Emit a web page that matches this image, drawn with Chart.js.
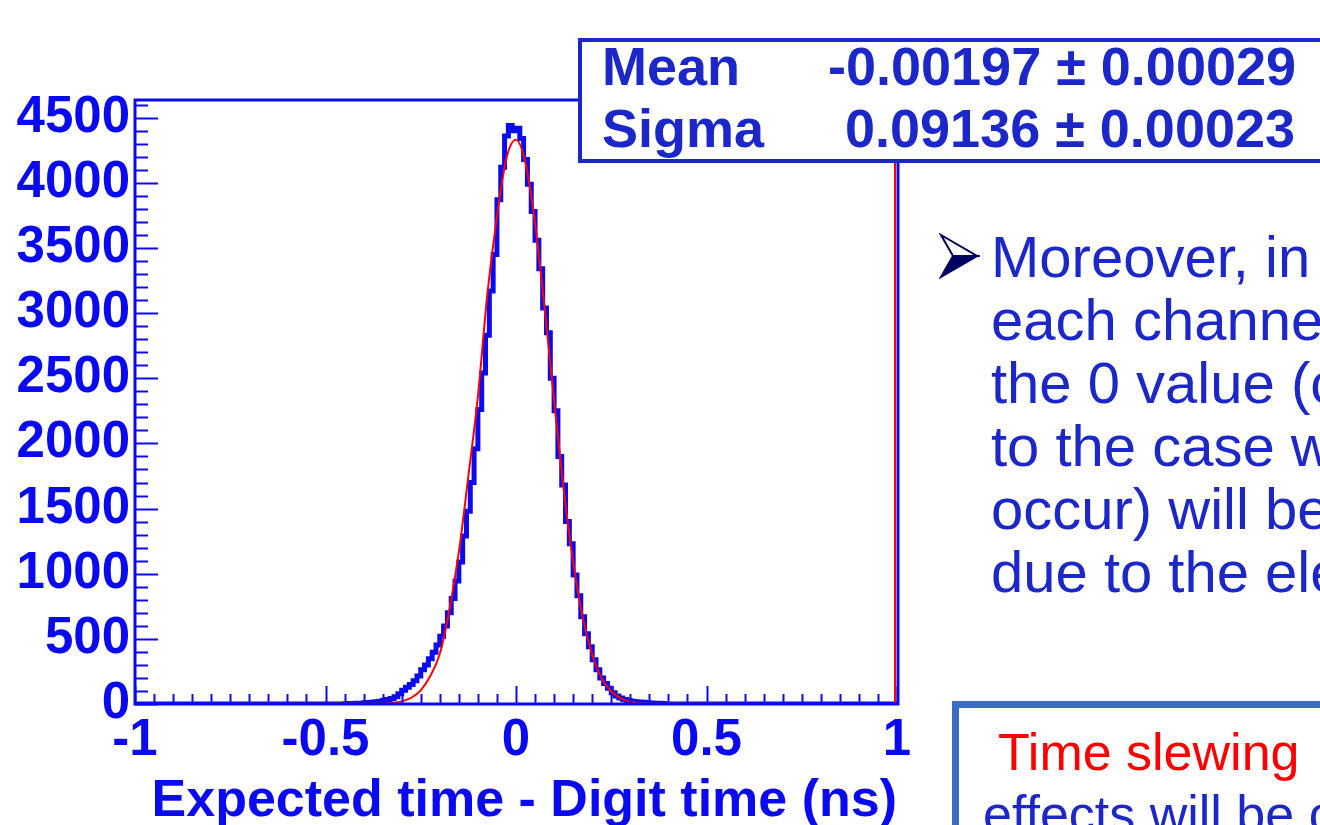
<!DOCTYPE html>
<html>
<head>
<meta charset="utf-8">
<title>Expected time - Digit time</title>
<script src="https://cdn.jsdelivr.net/npm/chart.js@4.4.1/dist/chart.umd.min.js"></script>
<style>
  html, body { margin: 0; padding: 0; background: #fff; overflow: hidden; }
  body { width: 1320px; height: 825px; position: relative; font-family: "Liberation Sans", Arial, sans-serif; }
  #wrap { position: absolute; left: 0; top: 0; width: 1320px; height: 825px; }
  .stats { position: absolute; left: 578px; top: 38px; width: 800px; height: 117px;
           border: 4px solid #1b27c9; background: #fff; color: #1b27c9; font-weight: bold; font-size: 54px; }
  .stats span { position: absolute; white-space: nowrap; line-height: 1; }
  .slide { position: absolute; color: #1b27c9; white-space: nowrap; }
  .note { position: absolute; left: 952px; top: 701px; width: 420px; height: 200px;
          border: 7px solid #3a6cc8; background: #fff; }
</style>
</head>
<body>
<div id="wrap"><canvas id="histo" width="1320" height="825"></canvas></div>

<div class="stats">
  <span style="left:20px; top:-3px">Mean</span>
  <span style="left:246px; top:-3px">-0.00197 ± 0.00029</span>
  <span style="left:20px; top:59px">Sigma</span>
  <span style="left:263px; top:59px">0.09136 ± 0.00023</span>
</div>

<svg style="position:absolute; left:938px; top:233px" width="42" height="46" viewBox="0 0 42 46">
  <polygon points="3,2 39,23 15,23" fill="#fff" stroke="#000060" stroke-width="2"/>
  <polygon points="3,44 39,23 15,23" fill="#000060" stroke="#000060" stroke-width="2"/>
</svg>
<div class="slide" style="left:991px; top:225px; font-size:58px; line-height:63px">
  Moreover, in<br>each channel<br>the 0 value (c<br>to the case w<br>occur) will be<br>due to the ele
</div>

<div class="note">
  <div class="slide" style="left:39px; top:13px; font-size:52px; line-height:62px; color:#ff0000">Time slewing</div>
  <div class="slide" style="left:24px; top:75px; font-size:52px; line-height:62px">effects will be c</div>
</div>

<script>
// -------------------------------
// DATA
// -------------------------------
const binStart = -0.45;
const binWidth = 0.01;
const counts = [
  2, 4, 3, 5, 6, 9, 11, 14, 18, 22,
  28, 35, 42, 55, 78, 105, 128, 150, 178, 215,
  262, 300, 348, 398, 452, 520, 598, 700, 810, 945,
  1090, 1290, 1480, 1700, 1960, 2260, 2540, 2830, 3170, 3450,
  3870, 4120, 4360, 4440, 4400,
  4420, 4340, 4180, 3990, 3780, 3560, 3340, 3040, 2850, 2500,
  2250, 1900, 1680, 1400, 1230, 990, 830, 670, 540, 440,
  340, 262, 200, 158, 120, 86, 62, 46, 35, 27,
  22, 18, 15, 13, 10, 8, 6, 5, 3, 0
];

// gaussian fit curve, read at a few points
const fitX = [-1, -0.35, -0.325, -0.3, -0.275, -0.25, -0.225, -0.2, -0.175, -0.15, -0.125, -0.1, -0.075, -0.05, -0.025,
  0, 0.025, 0.05, 0.075, 0.1, 0.125, 0.15, 0.175, 0.2, 0.225, 0.25, 0.275, 0.3, 0.325, 0.35, 1];
const fitY = [0, 4, 8, 20, 48, 105, 215, 385, 720, 1165, 1750, 2360, 3150, 3740, 4190,
  4330, 4150, 3690, 3040, 2330, 1650, 1090, 665, 380, 198, 98, 44, 18, 7, 3, 0];

const xRange = [-1, 1];
const yRange = [0, 4636];
const xTicks = [-1, -0.5, 0, 0.5, 1];
const xTickLabels = ["-1", "-0.5", "0", "0.5", "1"];
const yTicks = [0, 500, 1000, 1500, 2000, 2500, 3000, 3500, 4000, 4500];
const yTickLabels = ["0", "500", "1000", "1500", "2000", "2500", "3000", "3500", "4000", "4500"];

// -------------------------------
// BUILD POINTS
// -------------------------------
const histPoints = [{ x: xRange[0], y: 0 }];
counts.forEach((c, i) => {
  histPoints.push({ x: +(binStart + i * binWidth).toFixed(2), y: c });
});
histPoints.push({ x: +(binStart + counts.length * binWidth).toFixed(2), y: 0 });
histPoints.push({ x: xRange[1], y: 0 });

const fitPoints = fitX.map((x, i) => ({ x: x, y: fitY[i] }));

const BLUE = "#0a0af0";
const FONT = "'Liberation Sans', Arial, sans-serif";

// -------------------------------
// ROOT-LIKE FRAME + INNER TICKS
// -------------------------------
const rootFrame = {
  id: "rootFrame",
  afterDatasetsDraw(chart) {
    const { ctx, chartArea: a, scales } = chart;
    const xs = scales.x, ys = scales.y;
    ctx.save();

    // red fit drawn up the right edge
    ctx.strokeStyle = "#ff0000";
    ctx.lineWidth = 2;
    ctx.beginPath();
    ctx.moveTo(xs.getPixelForValue(1) - 2, a.bottom);
    ctx.lineTo(xs.getPixelForValue(1) - 2, a.top);
    ctx.stroke();

    ctx.strokeStyle = BLUE;
    ctx.lineWidth = 2;
    // y ticks every 100, long every 500
    for (let v = 0; v <= yRange[1]; v += 100) {
      const py = Math.round(ys.getPixelForValue(v)) + 0.5;
      const len = v % 500 === 0 ? 23 : 13;
      ctx.beginPath();
      ctx.moveTo(a.left, py);
      ctx.lineTo(a.left + len, py);
      ctx.stroke();
    }
    // x ticks every 0.05, long every 0.5
    for (let k = -20; k <= 20; k++) {
      const v = k * 0.05;
      const px = Math.round(xs.getPixelForValue(v)) + 0.5;
      const len = k % 10 === 0 ? 18 : 10;
      ctx.beginPath();
      ctx.moveTo(px, a.bottom);
      ctx.lineTo(px, a.bottom - len);
      ctx.stroke();
    }

    // frame
    ctx.lineWidth = 3;
    ctx.strokeRect(a.left, a.top, a.right - a.left + 1, a.bottom - a.top);
    ctx.restore();
  }
};

// -------------------------------
// CHART
// -------------------------------
const ctx = document.getElementById("histo").getContext("2d");

new Chart(ctx, {
  type: "line",
  data: {
    datasets: [
      {
        label: "fit",
        data: fitPoints,
        borderColor: "#ff0000",
        borderWidth: 2,
        pointRadius: 0,
        cubicInterpolationMode: "monotone",
        fill: false,
        order: 0
      },
      {
        label: "histogram",
        data: histPoints,
        borderColor: BLUE,
        borderWidth: 5,
        pointRadius: 0,
        stepped: true,
        fill: false,
        order: 1
      }
    ]
  },
  options: {
    responsive: false,
    animation: false,
    layout: { padding: { top: 100, left: 0, right: 423, bottom: 0 } },
    plugins: { legend: { display: false }, tooltip: { enabled: false } },
    scales: {
      x: {
        type: "linear",
        min: xRange[0],
        max: xRange[1],
        grid: { display: false, drawTicks: false },
        border: { display: false },
        afterBuildTicks: (s) => { s.ticks = xTicks.map(v => ({ value: v })); },
        afterFit: (s) => { s.height = 121; },
        ticks: {
          color: BLUE,
          padding: 6,
          maxRotation: 0,
          autoSkip: false,
          font: { family: FONT, size: 51, weight: "bold" },
          callback: (v, i) => xTickLabels[i]
        },
        title: {
          display: true,
          text: "Expected time - Digit time (ns)",
          align: "end",
          color: BLUE,
          padding: { top: 6, bottom: -8 },
          font: { family: FONT, size: 52, weight: "bold" }
        }
      },
      y: {
        min: yRange[0],
        max: yRange[1],
        grid: { display: false, drawTicks: false },
        border: { display: false },
        afterBuildTicks: (s) => { s.ticks = yTicks.map(v => ({ value: v })); },
        afterFit: (s) => { s.width = 135; },
        ticks: {
          color: BLUE,
          padding: 5,
          font: { family: FONT, size: 51, weight: "bold" },
          callback: (v, i) => yTickLabels[i]
        }
      }
    }
  },
  plugins: [rootFrame]
});
</script>
</body>
</html>
